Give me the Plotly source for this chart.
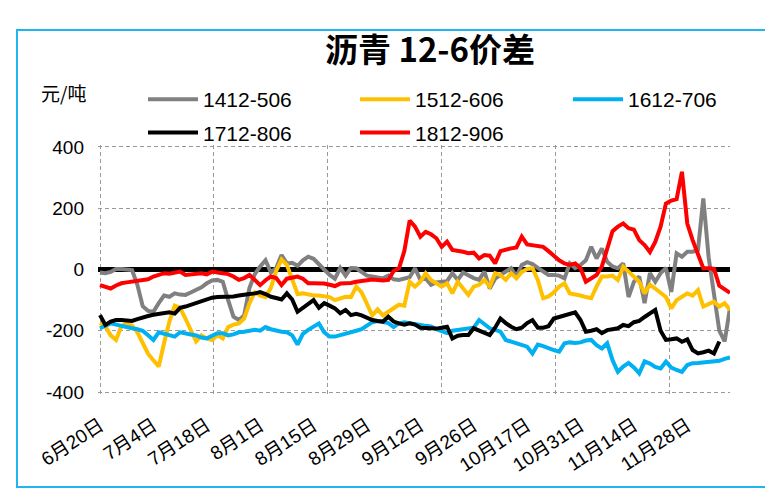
import plotly.graph_objects as go

tick_labels = ["6月20日", "7月4日", "7月18日", "8月1日", "8月15日", "8月29日",
               "9月12日", "9月26日", "10月17日", "10月31日", "11月14日", "11月28日"]

s1412_506 = [-10, -12, -8, 2, 2, 0, -2, -50, -120, -135,
             -138, -110, -85, -89, -78, -82, -83, -75, -67, -58,
             -45, -36, -34, -40, -100, -154, -165, -150, -60, -15,
             10, 30, -10, 5, 47, 20, 22, 12, 30, 42,
             35, 18, 0, -18, -30, 5, -20, 5, 4, -10,
             -20, -23, -25, -29, -20, -32, -34, -29, -25, 4,
             -34, -29, -50, -42, -40, -38, -12, -34, -10, -20,
             -28, -34, -7, -62, -30, -18, -8, 4, -23, 15,
             24, 18, 5, -7, -18, -18, -20, -29, 20, 5,
             15, 30, 74, 36, 69, 25, 10, 4, 20, -90,
             -40, -23, -110, -12, -40, -12, 5, -73, 53, 42,
             58, 58, 64, 232, 40, -80, -200, -235, -125]

s1512_606 = [-175, -185, -215, -230, -185, -176, -183, -205, -240, -275,
             -296, -317, -240, -170, -118, -125, -160, -195, -235, -215,
             -225, -230, -215, -225, -188, -180, -176, -160, -110, -75,
             -85, -90, -60, -5, 33, 15, -30, -80, -78, -82,
             -85, -85, -89, -90, -100, -95, -89, -90, -56, -75,
             -110, -150, -130, -150, -138, -125, -115, -118, -40, -56,
             -40, -12, -34, -45, -56, -45, -78, -40, -60, -83,
             -56, -50, -34, -56, -12, -18, -34, -12, -29, -8,
             2, 4, -34, -94, -88, -75, -56, -45, -78, -80,
             -85, -90, -94, -56, -23, -23, -20, -34, 9, -7,
             -23, -40, -78, -50, -62, -75, -90, -127, -100, -89,
             -78, -85, -67, -121, -112, -105, -121, -110, -132]

s1612_706 = [-192, -183, -176, -180, -185, -190, -192, -195, -200, -215,
             -230, -205, -210, -215, -219, -205, -210, -212, -215, -222,
             -225, -215, -208, -208, -215, -212, -205, -203, -200, -197,
             -200, -188, -195, -200, -203, -205, -215, -245, -210, -197,
             -188, -176, -205, -219, -219, -215, -208, -205, -200, -195,
             -182, -172, -168, -170, -175, -188, -176, -172, -176, -180,
             -181, -184, -186, -195, -200, -208, -200, -197, -195, -193,
             -190, -165, -178, -192, -197, -203, -230, -236, -240, -247,
             -252, -274, -245, -250, -258, -263, -268, -241, -238, -240,
             -238, -232, -230, -247, -258, -241, -296, -334, -317, -305,
             -320, -339, -300, -307, -318, -323, -301, -320, -328, -334,
             -312, -306, -305, -304, -303, -301, -298, -292, -287]

s1712_806 = [-149, -181, -170, -165, -165, -167, -168, -162, -156, -152,
             -148, -146, -145, -140, -144, -125, -121, -115, -110, -102,
             -96, -92, -90, -90, -89, -88, -85, -84, -80, -78,
             -74, -80, -89, -93, -98, -78, -98, -138, -125, -116,
             -100, -125, -110, -118, -127, -143, -132, -149, -145, -150,
             -157, -165, -168, -170, -154, -170, -176, -180, -176, -180,
             -190, -192, -192, -193, -190, -187, -225, -216, -214, -214,
             -192, -200, -208, -214, -190, -160, -175, -187, -195, -190,
             -175, -165, -190, -190, -185, -160, -155, -150, -143, -140,
             -165, -203, -200, -195, -208, -198, -195, -192, -181, -185,
             -172, -168, -155, -143, -132, -200, -230, -228, -225, -236,
             -228, -263, -274, -270, -265, -274, -235, None, None]

s1812_906 = [-51, -58, -62, -52, -45, -42, -40, -36, -34, -32,
             -23, -18, -12, -14, -12, -7, -18, -16, -14, -12,
             -16, -7, -10, -12, -15, -23, -34, -28, -18, -34,
             -51, -35, -23, -28, -51, -30, -26, -23, -30, -45,
             -45, -45, -46, -50, -54, -46, -46, -44, -40, -36,
             -35, -33, -36, -36, -34, -5, 4, 60, 160, 140,
             107, 123, 115, 102, 74, 91, 64, 62, 58, 53,
             55, 36, 47, 45, 20, 60, 66, 69, 72, 107,
             82, 79, 77, 74, 60, 45, 30, 20, 15, 20,
             4, -40, -29, -18, 10, 64, 125, 140, 150, 135,
             130, 96, 80, 57, 90, 140, 215, 225, 230, 319,
             150, 96, 45, 4, 4, 2, -53, -65, -76]

series_names = ["1412-506", "1512-606", "1612-706", "1712-806", "1812-906"]
series_values = [s1412_506, s1512_606, s1612_706, s1712_806, s1812_906]
series_colors = ["#808080", "#FFC000", "#00B0F0", "#000000", "#FF0000"]
series_legend = ["legend", "legend2", "legend3", "legend", "legend2"]

x_idx = list(range(len(s1412_506)))
tick_pos = list(range(0, len(tick_labels) * 10, 10))
grid_pos = [0, 21.35, 42.6, 64.0, 85.4, 106.7]

fig = go.Figure()
for name, vals, col, lg in zip(series_names, series_values, series_colors, series_legend):
    fig.add_trace(go.Scatter(x=x_idx, y=vals, mode="lines", name=name,
                             line=dict(color=col, width=4), connectgaps=False,
                             legend=lg, legendgroup=name, hoverinfo="skip"))

# page body has an 8px margin: lay out in figure coordinates (screen - 8)
OFF = 8
W, H = 773 - OFF, 489 - OFF
# plot area slightly larger than the gridded box so edge gridlines are drawn
PL, PR, PT, PB = 98 - OFF, 730 - OFF, 145 - OFF, 394 - OFF
PW, PH = PR - PL, PB - PT


def px_x(v):
    return (v - OFF - PL) / PW


def px_y(v):
    return (PB - (v - OFF)) / PH


legend_font = dict(family="Liberation Sans", size=21, color="black")


def legend_at(xs):
    return dict(orientation="v", x=px_x(xs), y=px_y(79), xref="paper", yref="paper",
                xanchor="left", yanchor="top", itemwidth=50, tracegroupgap=3,
                font=legend_font, bgcolor="rgba(0,0,0,0)", borderwidth=0)


fig.update_layout(
    width=W, height=H,
    margin=dict(l=PL, r=W - PR, t=PT, b=H - PB, autoexpand=False),
    paper_bgcolor="white", plot_bgcolor="white",
    title=dict(text="<b>沥青 12-6价差</b>", x=(430 - OFF) / W, xanchor="center",
               y=1 - (50 - OFF) / H, yanchor="middle", xref="container", yref="container",
               font=dict(family="Noto Sans CJK SC", size=33, color="black")),
    legend=legend_at(143),
    legend2=legend_at(355),
    legend3=legend_at(568),
    showlegend=True,
)

fig.update_xaxes(range=[-0.375, len(x_idx) - 1], tickmode="array", tickvals=tick_pos,
                 ticktext=tick_labels, tickangle=-33, showgrid=False, zeroline=False,
                 showline=False, ticks="", ticklabelstandoff=16,
                 tickfont=dict(family="Liberation Sans, Noto Sans CJK SC", size=19, color="black"),
                 minor=dict(tickmode="array", tickvals=grid_pos, showgrid=True,
                            gridcolor="#999999", griddash="4px,3px", gridwidth=1.2, ticks=""))

fig.update_yaxes(range=[-406.5, 406.5], tickmode="array", tickvals=[-400, -200, 0, 200, 400],
                 ticktext=["-400", "-200", "0", "200", "400"],
                 showgrid=True, gridcolor="#999999", griddash="4px,3px", gridwidth=1.2,
                 zeroline=True, zerolinecolor="black", zerolinewidth=5,
                 showline=False, ticks="", ticklabelstandoff=13,
                 tickfont=dict(family="Liberation Sans", size=19, color="black"))

fig.add_annotation(text="元/吨", xref="paper", yref="paper",
                   x=px_x(63), y=px_y(92), xanchor="center", yanchor="middle",
                   showarrow=False, font=dict(family="Noto Sans CJK SC", size=19, color="black"))

fig.add_shape(type="rect", xref="paper", yref="paper",
              x0=px_x(17), x1=px_x(790), y0=px_y(487), y1=px_y(30),
              line=dict(color="#1FB5F0", width=2), fillcolor="rgba(0,0,0,0)", layer="below")

fig.write_html("out.html")
